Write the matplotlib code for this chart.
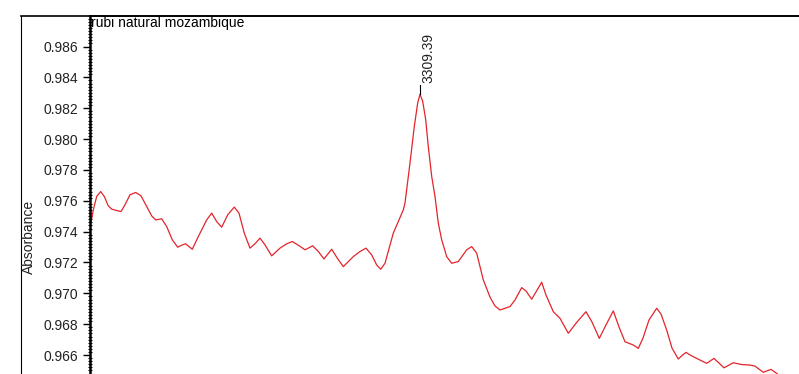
import matplotlib
matplotlib.use("Agg")
import matplotlib.pyplot as plt
from matplotlib.ticker import MultipleLocator, FormatStrFormatter

plt.rcParams['font.family'] = ['Liberation Sans', 'DejaVu Sans']

# spectrum (wavenumber cm-1, absorbance)
wavenumber = [3969.4, 3962.8, 3956.0, 3948.0, 3940.8, 3932.8, 3926.0, 3916.0, 3907.4, 3899.4,
              3889.4, 3878.0, 3867.4, 3856.0, 3846.0, 3838.0, 3826.0, 3816.0, 3804.8, 3794.0,
              3784.8, 3778.0, 3771.4, 3764.8, 3752.8, 3736.0, 3726.0, 3716.0, 3706.0, 3694.0,
              3680.8, 3671.4, 3660.8, 3649.4, 3639.4, 3629.4, 3619.4, 3606.0, 3589.4, 3576.0,
              3564.8, 3550.8, 3539.4, 3524.0, 3512.8, 3501.4, 3486.0, 3474.8, 3462.8, 3442.8,
              3429.4, 3417.4, 3406.0, 3396.0, 3388.0, 3379.4, 3362.8, 3342.8, 3339.4, 3329.4,
              3320.8, 3314.0, 3309.39, 3304.0, 3298.0, 3292.8, 3286.0, 3279.4, 3272.8, 3266.0,
              3256.0, 3246.0, 3232.8, 3216.0, 3206.0, 3196.0, 3182.8, 3169.4, 3159.4, 3149.4,
              3129.4, 3119.4, 3106.0, 3097.4, 3086.0, 3077.4, 3066.0, 3057.4, 3042.8, 3029.4,
              3012.8, 2995.4, 2977.4, 2965.4, 2950.8, 2937.4, 2922.8, 2911.4, 2899.4, 2882.8,
              2872.8, 2863.4, 2851.4, 2836.0, 2827.4, 2816.0, 2805.4, 2792.8, 2785.4, 2777.4,
              2767.4, 2756.0, 2736.0, 2721.4, 2711.4, 2701.4, 2682.8, 2665.4, 2649.4, 2639.4,
              2622.8, 2607.4, 2596.0, 2585.4]
absorbance = [0.97423, 0.97541, 0.97628, 0.97660, 0.97628, 0.97567, 0.97546, 0.97537, 0.97530, 0.97574,
              0.97639, 0.97654, 0.97632, 0.97563, 0.97502, 0.97476, 0.97483, 0.97433, 0.97347, 0.97299,
              0.97314, 0.97321, 0.97303, 0.97286, 0.97368, 0.97476, 0.97520, 0.97465, 0.97429, 0.97509,
              0.97559, 0.97520, 0.97390, 0.97293, 0.97321, 0.97358, 0.97314, 0.97243, 0.97293, 0.97321,
              0.97336, 0.97308, 0.97282, 0.97308, 0.97271, 0.97223, 0.97286, 0.97228, 0.97173, 0.97238,
              0.97271, 0.97293, 0.97249, 0.97184, 0.97156, 0.97195, 0.97390, 0.97541, 0.97585, 0.97845,
              0.98082, 0.98234, 0.98291, 0.98245, 0.98126, 0.97952, 0.97758, 0.97628, 0.97455, 0.97347,
              0.97238, 0.97195, 0.97206, 0.97282, 0.97303, 0.97260, 0.97087, 0.96976, 0.96918, 0.96892,
              0.96914, 0.96957, 0.97037, 0.97015, 0.96962, 0.97009, 0.97072, 0.96989, 0.96881, 0.96838,
              0.96741, 0.96814, 0.96881, 0.96814, 0.96708, 0.96795, 0.96886, 0.96782, 0.96686, 0.96665,
              0.96643, 0.96710, 0.96827, 0.96903, 0.96866, 0.96762, 0.96645, 0.96574, 0.96597, 0.96617,
              0.96597, 0.96578, 0.96546, 0.96578, 0.96548, 0.96517, 0.96550, 0.96538, 0.96535, 0.96528,
              0.96488, 0.96507, 0.96481, 0.96451]

peak_wn = 3309.39
peak_abs = 0.98291
title = "rubi natural mozambique"

W, H = 799, 374
fig = plt.figure(figsize=(W / 100, H / 100), dpi=100)

# outer frame (left + top lines)
frame = fig.add_axes([21 / W, 0, 1 - 21 / W, 1 - 16 / H])
frame.set_xticks([])
frame.set_yticks([])
for s in ["right", "bottom"]:
    frame.spines[s].set_visible(False)
frame.spines["left"].set_linewidth(0.8)
frame.spines["top"].set_linewidth(1.2)

ax = fig.add_axes([90 / W, 0, 1 - 90 / W, 1 - 16 / H])
ax.patch.set_alpha(0)
ax.plot(wavenumber, absorbance, color="#e3242b", linewidth=0.9)

# peak marker
ax.plot([peak_wn, peak_wn], [peak_abs, peak_abs + 0.0006], color="black", linewidth=0.8)
ax.annotate(f"{peak_wn:.2f}", xy=(peak_wn, peak_abs + 0.0006), xytext=(8.5, 2),
            textcoords="offset pixels", rotation=90, ha="center", va="bottom",
            fontsize=10, color="#222222")

ax.set_xlim(3969.39, 2551.39)
ax.set_ylim(0.96477, 0.98798)

ax.yaxis.set_major_locator(MultipleLocator(0.002))
ax.yaxis.set_minor_locator(MultipleLocator(0.0002))
ax.yaxis.set_major_formatter(FormatStrFormatter("%.3f"))
ax.tick_params(axis="y", which="major", direction="out", length=5, width=1,
               labelsize=10, labelcolor="#222222")
ax.tick_params(axis="y", which="minor", direction="inout", length=3.5, width=0.8)
ax.set_xticks([])

ax.spines["right"].set_visible(False)
ax.spines["bottom"].set_visible(False)
ax.spines["left"].set_linewidth(1.8)
ax.spines["top"].set_linewidth(1.2)

ax.set_ylabel("Absorbance", fontsize=10, color="#222222")
ax.yaxis.set_label_coords(-0.076, 0.383)

ax.text(0.002, 1.0, title, transform=ax.transAxes, ha="left", va="top",
        fontsize=10, color="black")

fig.savefig("out.png", dpi=100)
